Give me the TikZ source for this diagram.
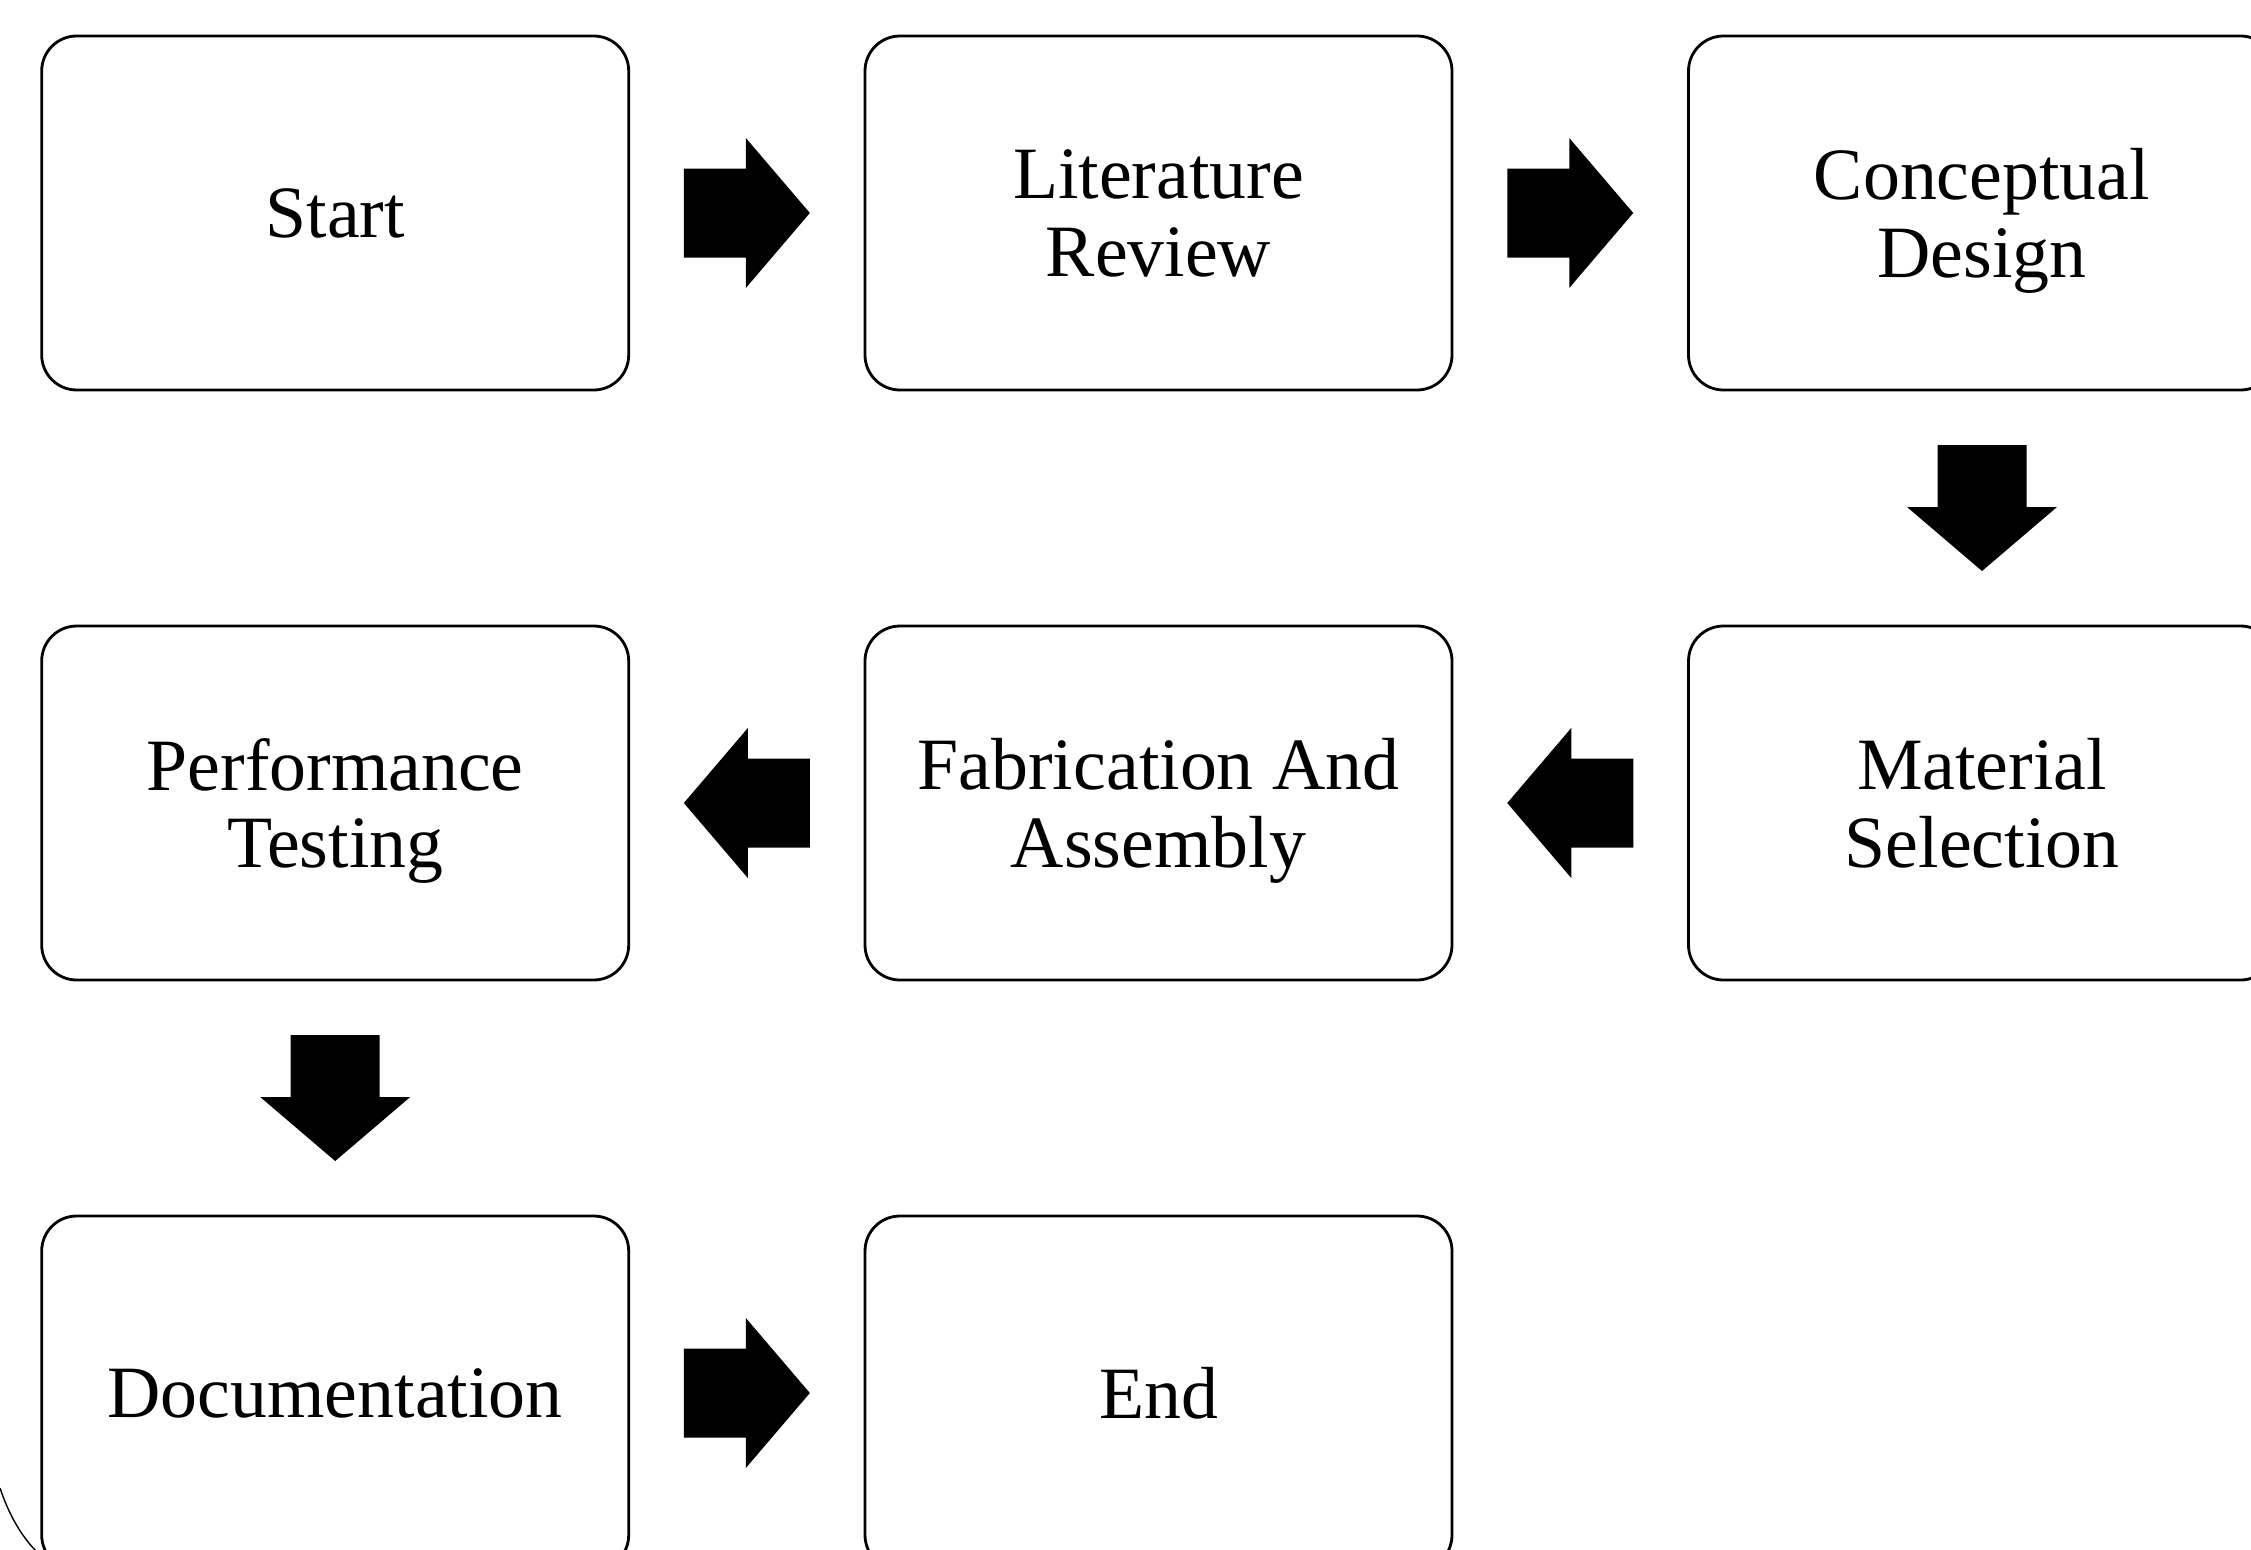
\documentclass[tikz,border=0pt]{standalone}
\usepackage{fontspec}
\setmainfont{Liberation Serif}
\usetikzlibrary{calc}

\tikzset{
    pics/fatarrow/.style={code={
        \fill[black] (-0.63, -0.445) -- (-0.01, -0.445) -- (-0.01, -0.75) -- (0.63, 0)
            -- (-0.01, 0.75) -- (-0.01, 0.445) -- (-0.63, 0.445) -- cycle;
    }}
}

\begin{document}
\begin{tikzpicture}[
        every node/.style={font=\fontsize{21}{22}\selectfont},
        stage/.style={rectangle, draw=black, line width=0.8pt, fill=white, minimum width=5.87cm, minimum height=3.54cm, align=center, text depth=0pt, rounded corners=0.35cm, inner sep=0pt}
        ]

        % Page frame (boxes run off the right and bottom edges)
        \clip (0, 0) rectangle (22.51, -15.5);

        % Stage boxes, row by row
        \node[stage] (start) at (3.352, -2.13) {Start};
        \node[stage] (litrev) at (11.585, -2.13) {Literature\\Review};
        \node[stage] (concept) at (19.82, -2.13) {Conceptual\\Design};

        \node[stage] (material) at (19.82, -8.03) {Material\\Selection};
        \node[stage] (fabric) at (11.585, -8.03) {Fabrication And\\Assembly};
        \node[stage] (perf) at (3.352, -8.03) {Performance\\Testing};

        \node[stage] (doc) at (3.352, -13.93) {Documentation};
        \node[stage] (finish) at (11.585, -13.93) {End};

        % Block arrows between the stages
        \pic (a1) at ($(start.east)!0.5!(litrev.west)$) {fatarrow};
        \pic (a2) at ($(litrev.east)!0.5!(concept.west)$) {fatarrow};
        \pic[rotate=270] (a3) at ($(concept.south)!0.5!(material.north)$) {fatarrow};
        \pic[rotate=180] (a4) at ($(material.west)!0.5!(fabric.east)$) {fatarrow};
        \pic[rotate=180] (a5) at ($(fabric.west)!0.5!(perf.east)$) {fatarrow};
        \pic[rotate=270] (a6) at ($(perf.south)!0.5!(doc.north)$) {fatarrow};
        \pic (a7) at ($(doc.east)!0.5!(finish.west)$) {fatarrow};

        % Stray arc in the lower left corner
        \draw[line width=0.4pt] (0, -14.88) .. controls (0.08, -15.12) and (0.2, -15.35) .. (0.37, -15.52);

    \end{tikzpicture}
\end{document}
